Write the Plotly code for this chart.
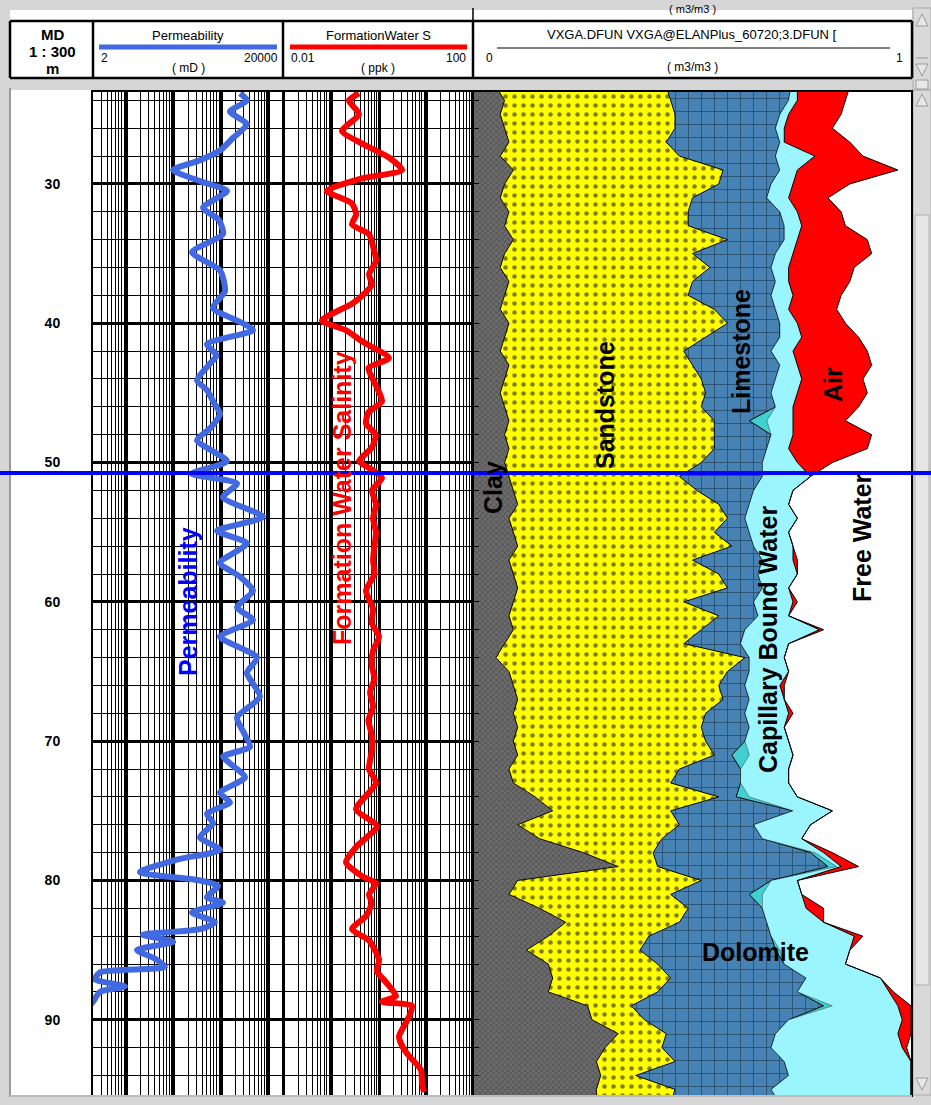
import math
import plotly.graph_objects as go

W, H = 931, 1105
def fx(p):
    return p / W
def fy(p):
    return 1 - p / H

FONT = "Liberation Sans, Arial, sans-serif"

# ---------------- depth axis ----------------
depth_top, depth_bottom = 23.4, 95.4
depth_ticks = [30, 40, 50, 60, 70, 80, 90]
marker_depth = 50.75

# ---------------- permeability (mD) ----------------
perm_depth = [23.5, 24.0, 24.8, 25.7, 26.7, 27.6, 28.3, 29.0, 29.8, 30.5,
              31.7, 32.6, 33.6, 34.9, 36.2, 37.7, 38.9, 40.0, 40.5, 41.5,
              42.3, 42.9, 44.1, 44.8, 45.7, 46.5, 47.5, 48.4, 49.9, 50.8,
              51.5, 52.5, 53.9, 54.9, 55.8, 57.2, 58.2, 59.2, 60.4, 61.3,
              62.5, 64.0, 65.1, 66.8, 68.3, 69.4, 70.4, 71.1, 71.6, 72.6,
              73.7, 74.4, 75.2, 75.9, 76.9, 77.8, 78.5, 79.4, 80.0, 80.4,
              81.2, 81.6, 82.3, 83.0, 83.5, 83.9, 84.4, 85.0, 85.6, 86.2,
              86.6, 87.1, 87.6, 88.0, 88.7, 89.2]
perm_md = [2500, 3490, 1530, 3490, 1770, 944, 358, 97, 358, 1325,
           414, 900, 1091, 243, 944, 1203, 672, 2877, 4670, 502,
           800, 581, 309, 502, 700, 944, 600, 309, 1325, 240,
           2152, 1091, 7590, 816, 3492, 944, 2500, 4670, 2152, 4670,
           944, 5670, 3492, 6560, 2152, 3000, 4038, 1091, 1532, 3170,
           944, 1532, 502, 672, 358, 944, 117, 19.5, 358, 857,
           502, 1091, 243, 740, 358, 22.6, 97, 16.9, 40, 65.6,
           2.8, 2.2, 9.4, 2.8, 2.0, 1.5]

# ---------------- formation water salinity (ppk) ----------------
sal_depth = [23.5, 24.0, 25.0, 26.2, 27.1, 28.1, 29.0, 29.6, 30.5,
             31.4, 32.2, 32.9, 33.6, 34.5, 35.5, 36.5, 37.2, 38.0, 38.6,
             39.8, 40.5, 41.3, 42.5, 43.2, 43.9, 44.6, 45.6, 46.4, 47.2,
             48.0, 48.9, 49.9, 50.5, 51.1, 52.0, 53.0, 54.0, 55.0, 56.0,
             57.0, 58.0, 59.2, 60.5, 61.5, 62.5, 63.5, 64.5, 65.5, 66.5,
             67.5, 68.5, 69.5, 70.6, 72.0, 73.0, 74.9, 76.1, 77.6, 78.7,
             79.7, 80.2, 81.0, 81.6, 82.5, 83.5, 84.3, 85.7, 86.5, 87.3,
             88.3, 88.7, 89.0, 89.6, 90.2, 91.2, 92.0, 92.6, 93.6, 94.5,
             95.2]
sal_ppk = [0.379, 0.233, 0.379, 0.166, 0.439, 1.62, 3.05, 0.439, 0.080,
           0.27, 0.33, 0.27, 0.616, 0.75, 0.865, 0.616, 0.712, 0.45, 0.27,
           0.063, 0.2, 0.439, 1.62, 0.6, 0.712, 0.9, 1.156, 0.6, 0.532,
           0.85, 0.712, 0.379, 0.7, 1.156, 0.712, 0.865, 0.75, 0.865, 0.8,
           0.75, 0.8, 0.532, 0.75, 0.7, 1.0, 0.75, 0.7, 0.8, 0.65,
           0.75, 0.6, 0.7, 0.712, 0.616, 0.865, 0.328, 0.907, 0.328, 0.202,
           0.439, 0.865, 0.616, 0.7, 0.55, 0.27, 0.616, 1.0, 0.9, 1.4,
           2.28, 1.156, 4.95, 4.5, 3.7, 2.64, 3.2, 4.28, 7.66, 8.04,
           8.86]

# ---------------- ELAN volumes (m3/m3), 1 m steps 23..96 ----------------
vol_depth = list(range(23, 97))
# cumulative right edges
clay_edge = [0.05, 0.07, 0.06, 0.07, 0.08, 0.06, 0.09, 0.07, 0.06, 0.08,
             0.07, 0.09, 0.07, 0.06, 0.08, 0.07, 0.06, 0.08, 0.07, 0.06,
             0.08, 0.07, 0.06, 0.07, 0.08, 0.07, 0.08, 0.07, 0.08, 0.09,
             0.10, 0.08, 0.09, 0.10, 0.08, 0.09, 0.10, 0.09, 0.08, 0.09,
             0.07, 0.05, 0.08, 0.09, 0.10, 0.09, 0.10, 0.09, 0.10, 0.08,
             0.09, 0.14, 0.18, 0.10, 0.15, 0.25, 0.33, 0.10, 0.08, 0.15,
             0.21, 0.17, 0.12, 0.17, 0.18, 0.17, 0.26, 0.27, 0.33, 0.30,
             0.28, 0.29, 0.28, 0.28]
sand_edge = [0.44, 0.45, 0.46, 0.46, 0.44, 0.47, 0.57, 0.56, 0.50, 0.49,
             0.49, 0.58, 0.50, 0.54, 0.50, 0.49, 0.55, 0.58, 0.53, 0.48,
             0.50, 0.52, 0.53, 0.52, 0.55, 0.55, 0.55, 0.52, 0.47, 0.51,
             0.56, 0.58, 0.55, 0.59, 0.50, 0.56, 0.58, 0.48, 0.56, 0.52,
             0.48, 0.62, 0.58, 0.56, 0.57, 0.53, 0.52, 0.53, 0.55, 0.47,
             0.45, 0.56, 0.45, 0.47, 0.43, 0.41, 0.42, 0.52, 0.45, 0.49,
             0.47, 0.40, 0.38, 0.42, 0.45, 0.42, 0.36, 0.39, 0.44, 0.43,
             0.46, 0.37, 0.46, 0.45]
carb_edge = [0.725, 0.72, 0.70, 0.69, 0.70, 0.69, 0.70, 0.68, 0.67, 0.70,
             0.71, 0.71, 0.69, 0.68, 0.69, 0.68, 0.69, 0.70, 0.70, 0.68,
             0.70, 0.69, 0.68, 0.69, 0.63, 0.68, 0.67, 0.66, 0.66, 0.64,
             0.63, 0.62, 0.63, 0.64, 0.66, 0.65, 0.66, 0.64, 0.65, 0.62,
             0.61, 0.63, 0.63, 0.62, 0.63, 0.62, 0.63, 0.62, 0.59, 0.61,
             0.61, 0.60, 0.73, 0.64, 0.66, 0.77, 0.81, 0.68, 0.63, 0.66,
             0.67, 0.68, 0.69, 0.71, 0.76, 0.74, 0.80, 0.72, 0.69, 0.68,
             0.71, 0.72, 0.68, 0.70]
cbw_edge = [0.74, 0.74, 0.72, 0.71, 0.71, 0.78, 0.74, 0.73, 0.72, 0.74,
            0.75, 0.74, 0.73, 0.72, 0.72, 0.73, 0.72, 0.74, 0.75, 0.73,
            0.74, 0.75, 0.74, 0.73, 0.73, 0.73, 0.72, 0.74, 0.77, 0.73,
            0.72, 0.74, 0.72, 0.73, 0.73, 0.74, 0.72, 0.73, 0.72, 0.79,
            0.72, 0.71, 0.72, 0.70, 0.71, 0.72, 0.71, 0.72, 0.73, 0.72,
            0.72, 0.74, 0.82, 0.77, 0.75, 0.80, 0.84, 0.74, 0.75, 0.76,
            0.80, 0.87, 0.86, 0.85, 0.93, 0.95, 0.97, 0.98, 0.97, 0.98,
            1.00, 1.00, 1.00, 1.00]
# thin volumes
teal_vol = [0, 0, 0, 0, 0, 0, 0, 0, 0, 0,
            0, 0, 0, 0, 0, 0, 0, 0, 0, 0,
            0, 0, 0, 0, 0.04, 0, 0, 0, 0, 0,
            0, 0, 0, 0, 0, 0, 0, 0, 0, 0,
            0, 0, 0, 0, 0, 0, 0, 0, 0.04, 0,
            0, 0.03, 0, 0, 0, 0.01, 0.02, 0, 0.03, 0,
            0, 0, 0.01, 0, 0, 0, 0.02, 0, 0, 0,
            0, 0, 0, 0]
air_vol = [0.12, 0.11, 0.12, 0.11, 0.15, 0.11, 0.23, 0.13, 0.09, 0.10,
           0.10, 0.16, 0.18, 0.15, 0.14, 0.11, 0.11, 0.11, 0.13, 0.17,
           0.17, 0.14, 0.16, 0.15, 0.12, 0.18, 0.18, 0.08, 0.0, 0.0,
           0, 0, 0, 0, 0.01, 0, 0, 0.01, 0, 0.01,
           0, 0, 0, 0.01, 0, 0.01, 0, 0, 0, 0,
           0, 0, 0, 0, 0, 0.02, 0.04, 0, 0, 0.04,
           0, 0.02, 0, 0, 0, 0.01, 0.03, 0.02, 0.03, 0.01,
           0, 0, 0, 0]

teal_edge = [c + t for c, t in zip(carb_edge, teal_vol)]
air_edge = [min(1.0, c + a) for c, a in zip(cbw_edge, air_vol)]

fig = go.Figure()

# curves
fig.add_trace(go.Scatter(x=perm_md, y=perm_depth, mode="lines", xaxis="x", yaxis="y",
                         line=dict(color="#4169E1", width=6, shape="spline", smoothing=0.6),
                         name="Permeability", showlegend=False, hoverinfo="skip"))
fig.add_trace(go.Scatter(x=sal_ppk, y=sal_depth, mode="lines", xaxis="x2", yaxis="y2",
                         line=dict(color="#FF0000", width=6, shape="spline", smoothing=0.6),
                         name="Formation Water Salinity", showlegend=False, hoverinfo="skip"))

# volumetric fills
def area(xs, name, fill, color, pattern=None, line_color="black", lw=1):
    kw = dict(x=xs, y=vol_depth, mode="lines", xaxis="x3", yaxis="y3", fill=fill,
              fillcolor=color, line=dict(color=line_color, width=lw),
              name=name, showlegend=False, hoverinfo="skip")
    if pattern:
        kw["fillpattern"] = pattern
    fig.add_trace(go.Scatter(**kw))

area(clay_edge, "Clay", "tozerox", "#6a6a6a",
     dict(shape="x", bgcolor="#6e6e6e", fgcolor="#3c3c3c", size=4, solidity=0.45))
area(sand_edge, "Sandstone", "tonextx", "#FFFF00",
     dict(shape=".", bgcolor="#FFFF00", fgcolor="black", size=9, solidity=0.2))
area(carb_edge, "Limestone / Dolomite", "tonextx", "#4682B4",
     dict(shape="+", bgcolor="#4682B4", fgcolor="#14222e", size=13, solidity=0.14))
area(teal_edge, "Bound Water", "tonextx", "#40D0D0", line_color="rgba(0,0,0,0.6)", lw=0.7)
area(cbw_edge, "Capillary Bound Water", "tonextx", "#9BF5FF")
area(air_edge, "Air", "tonextx", "#FF0000")

ydom = [fy(1095), fy(92)]
axis_common = dict(showline=True, linecolor="black", linewidth=2, mirror=True,
                   zeroline=False, showticklabels=False, ticks="")

layout = dict(
    width=W, height=H,
    margin=dict(l=0, r=0, t=0, b=0),
    paper_bgcolor="#d6d6d6",
    plot_bgcolor="white",
    font=dict(family=FONT, color="black"),
    showlegend=False,
    xaxis=dict(domain=[fx(93), fx(283)], type="log", anchor="y",
               range=[math.log10(2), math.log10(20000)],
               showgrid=True, gridcolor="black", gridwidth=2.5, dtick=1,
               minor=dict(showgrid=True, gridcolor="black", gridwidth=1, dtick="D1"),
               **axis_common),
    xaxis2=dict(domain=[fx(284), fx(474)], type="log", anchor="y2",
                range=[-2, 2],
                showgrid=True, gridcolor="black", gridwidth=2.5, dtick=1,
                minor=dict(showgrid=True, gridcolor="black", gridwidth=1, dtick="D1"),
                **axis_common),
    xaxis3=dict(domain=[fx(474), fx(911)], range=[0, 1], anchor="y3",
                showgrid=False, **axis_common),
    yaxis=dict(domain=ydom, range=[depth_bottom, depth_top], anchor="x",
               tickvals=depth_ticks, ticktext=["<b>%d</b>" % d for d in depth_ticks],
               tickfont=dict(size=14, family=FONT, color="black"),
               ticklabelstandoff=28, ticks="", showgrid=True, gridcolor="black",
               gridwidth=2.5, minor=dict(showgrid=True, gridcolor="black", gridwidth=1,
                                          dtick=2, tick0=0),
               showline=True, linecolor="black", linewidth=2, mirror=True, zeroline=False),
    yaxis2=dict(domain=ydom, matches="y", anchor="x2", showticklabels=False, ticks="",
                tickvals=depth_ticks, showgrid=True, gridcolor="black", gridwidth=2.5,
                minor=dict(showgrid=True, gridcolor="black", gridwidth=1, dtick=2, tick0=0),
                showline=True, linecolor="black", linewidth=2, mirror=True, zeroline=False),
    yaxis3=dict(domain=ydom, matches="y", anchor="x3", showticklabels=False,
                showgrid=False, ticks="inside", ticklen=5, tickcolor="black",
                dtick=2, tick0=0, showline=True, linecolor="black", linewidth=2,
                mirror=True, zeroline=False),
)

shapes = []
def rect(x0, y0, x1, y1, fill, line="rgba(0,0,0,0)", lw=0, layer="below"):
    shapes.append(dict(type="rect", xref="paper", yref="paper",
                       x0=fx(x0), x1=fx(x1), y0=fy(y1), y1=fy(y0),
                       fillcolor=fill, line=dict(color=line, width=lw), layer=layer))
def hline(x0, x1, y, color="black", w=1, layer="above"):
    shapes.append(dict(type="line", xref="paper", yref="paper", x0=fx(x0), x1=fx(x1),
                       y0=fy(y), y1=fy(y), line=dict(color=color, width=w), layer=layer))
def vline(x, y0, y1, color="black", w=1, layer="above"):
    shapes.append(dict(type="line", xref="paper", yref="paper", x0=fx(x), x1=fx(x),
                       y0=fy(y0), y1=fy(y1), line=dict(color=color, width=w), layer=layer))
def tri(xc, yc, up=True, s=6):
    if up:
        p = "M %f %f L %f %f L %f %f Z" % (fx(xc), fy(yc - s), fx(xc - s), fy(yc + s), fx(xc + s), fy(yc + s))
    else:
        p = "M %f %f L %f %f L %f %f Z" % (fx(xc), fy(yc + s), fx(xc - s), fy(yc - s), fx(xc + s), fy(yc - s))
    shapes.append(dict(type="path", xref="paper", yref="paper", path=p,
                       fillcolor="#e8e8e8", line=dict(color="#9a9a9a", width=1), layer="above"))

# depth track background
rect(10, 90, 93, 1095, "white")
vline(10, 88, 1097, color="#9a9a9a", w=2)
hline(10, 912, 1096, color="#bdbdbd", w=2)

# header
rect(10, 10, 912, 78, "white")
hline(10, 912, 21, w=2.5)
hline(10, 912, 78, w=2.5)
vline(10, 21, 78, w=2.5)
vline(912, 21, 78, w=2.5)
for xd in (93, 283, 473):
    vline(xd, 21, 78, w=2.5)
vline(473, 8, 21, w=1.5)
hline(99, 277, 47, color="#4169E1", w=5)
hline(290, 467, 47, color="#FF0000", w=5)
hline(497, 890, 48, color="black", w=1)

# scrollbars
rect(913, 8, 931, 90, "#d9d9d9", line="#a8a8a8", lw=1)
rect(913, 90, 931, 1095, "#d9d9d9", line="#a8a8a8", lw=1)
rect(915, 215, 929, 985, "#e6e6e6", line="#b0b0b0", lw=1)
tri(922, 20, up=True)
tri(922, 70, up=False)
hline(916, 928, 58, color="#9a9a9a", w=1)
rect(916, 80, 928, 89, "#e8e8e8", line="#9a9a9a", lw=1)
tri(922, 100, up=True)
tri(922, 1084, up=False)

# marker line (data depth)
shapes.append(dict(type="line", xref="paper", yref="y", x0=0, x1=1,
                   y0=marker_depth, y1=marker_depth,
                   line=dict(color="#0000FF", width=4), layer="above"))
layout["shapes"] = shapes

ann = []
def text(x, y, s, size=13, color="black", angle=0, xanchor="center", yanchor="middle"):
    ann.append(dict(x=fx(x), y=fy(y), xref="paper", yref="paper", text=s, showarrow=False,
                    font=dict(size=size, color=color, family=FONT), textangle=angle,
                    xanchor=xanchor, yanchor=yanchor))

# header text
text(52, 34, "<b>MD</b>", size=15)
text(52, 51, "<b>1 : 300</b>", size=15)
text(52, 68, "<b>m</b>", size=15)
text(188, 35, "Permeability", size=13)
text(99, 58, "2", size=12, xanchor="left")
text(280, 58, "20000", size=12, xanchor="right")
text(188, 68, "( mD )", size=12)
text(378, 35, "FormationWater S", size=13)
text(289, 58, "0.01", size=12, xanchor="left")
text(468, 58, "100", size=12, xanchor="right")
text(378, 68, "( ppk )", size=12)
text(692, 34, "VXGA.DFUN VXGA@ELANPlus_60720;3.DFUN [", size=13)
text(484, 58, "0", size=12, xanchor="left")
text(905, 58, "1", size=12, xanchor="right")
text(692, 67, "( m3/m3 )", size=12)
text(692, 9, "( m3/m3 )", size=11)

# track labels
text(188, 602, "<b>Permeability</b>", size=25, color="#0000FF", angle=-90)
text(342, 498, "<b>Formation Water Salinity</b>", size=25, color="#FF0000", angle=-90)
text(493, 487, "<b>Clay</b>", size=25, angle=-90)
text(605, 405, "<b>Sandstone</b>", size=25, angle=-90)
text(741, 352, "<b>Limestone</b>", size=25, angle=-90)
text(833, 385, "<b>Air</b>", size=25, angle=-90)
text(862, 538, "<b>Free Water</b>", size=25, angle=-90)
text(768, 640, "<b>Capillary Bound Water</b>", size=25, angle=-90)
text(755, 952, "<b>Dolomite</b>", size=25)
layout["annotations"] = ann

fig.update_layout(**layout)
fig.write_html("out.html")
